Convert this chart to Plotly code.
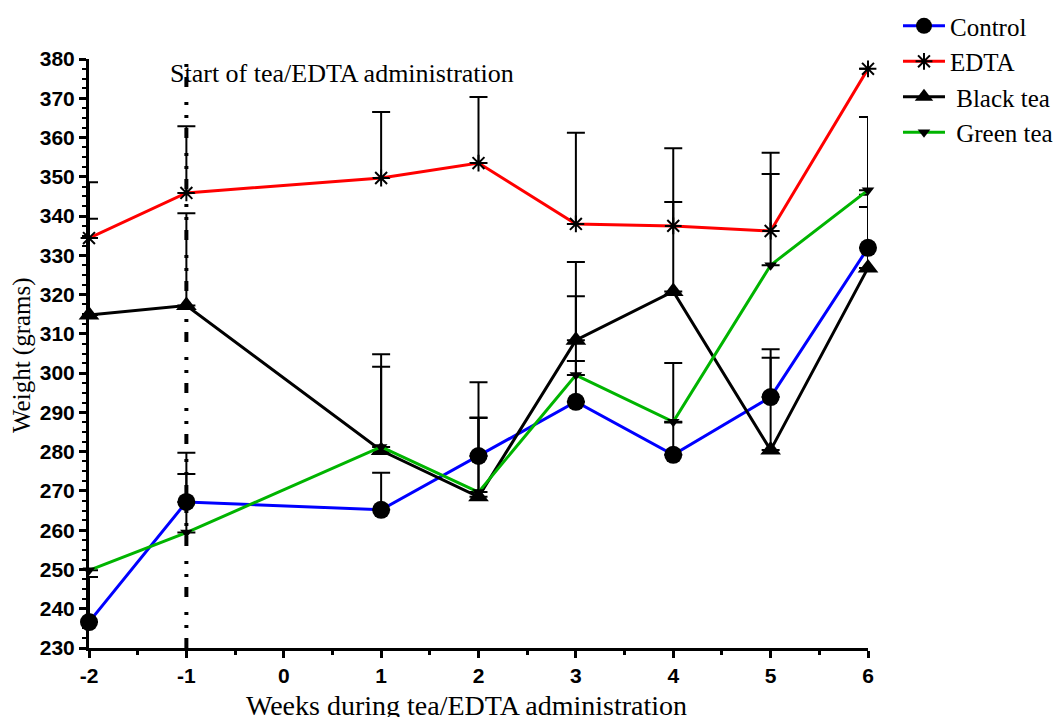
import plotly.graph_objects as go

weeks = [-2, -1, 1, 2, 3, 4, 5, 6]

control = [236.6, 267.2, 265.2, 278.9, 292.7, 279.2, 293.9, 331.9]
control_err = [11.5, 7.1, 9.4, 9.7, 10.4, 8.2, 10.0, 10.4]

edta = [334.4, 345.9, 349.7, 353.5, 338.0, 337.5, 336.2, 377.5]
edta_err = [14.2, 17.0, 16.8, 16.8, 23.2, 19.8, 19.9, 0.0]

black_tea = [314.8, 317.2, 280.3, 268.5, 308.4, 320.8, 280.4, 326.8]
black_tea_err = [24.5, 23.5, 24.5, 29.2, 19.9, 22.8, 25.7, 18.6]

green_tea = [249.8, 259.4, 281.2, 269.7, 299.5, 287.6, 327.5, 346.6]
green_tea_err = [0.0, 20.3, 20.4, 19.0, 20.1, 15.0, 23.2, 18.6]

x_ticks = [-2, -1, 0, 1, 2, 3, 4, 5, 6]
x_ticktext = ["-2", "-1", "0", "1", "2", "3", "4", "5", "6"]
y_ticks = list(range(230, 381, 10))

series = [
    ("Control", control, control_err, "#0000FF", "circle", 18),
    ("EDTA", edta, edta_err, "#FF0000", "asterisk-open", 14),
    ("\u00a0Black tea", black_tea, black_tea_err, "#000000", "triangle-up", 18),
    ("\u00a0Green tea", green_tea, green_tea_err, "#00B400", "triangle-down", 11),
]

fig = go.Figure()
for i, (name, vals, err, col, sym, size) in enumerate(series):
    fig.add_trace(go.Scatter(
        x=weeks, y=vals, name=name, mode="lines+markers",
        line=dict(color=col, width=3),
        marker=dict(symbol=sym, size=size, color="black",
                    line=dict(color="black", width=2 if "asterisk" in sym else 0)),
        error_y=dict(type="data", symmetric=False, array=err,
                     arrayminus=[0] * len(err), color="black",
                     thickness=2, width=9),
        cliponaxis=False,
        legendgroup=f"g{i}",
    ))

fig.add_shape(type="line", x0=-1, x1=-1, y0=230, y1=380, xref="x", yref="y",
              line=dict(color="black", width=4, dash="10px,10px,3px,10px,3px,15px"),
              layer="below")

serif = "Liberation Serif, Times New Roman, serif"
fig.add_annotation(x=0.6, y=376.2, xref="x", yref="y", text="Start of tea/EDTA administration",
                   showarrow=False, font=dict(family=serif, size=26, color="black"),
                   xanchor="center", yanchor="middle")
fig.add_annotation(x=0.484, y=-0.097, xref="paper", yref="paper",
                   text="Weeks during tea/EDTA administration", showarrow=False,
                   font=dict(family=serif, size=28, color="black"),
                   xanchor="center", yanchor="middle")
fig.add_annotation(x=-0.086, y=0.4975, xref="paper", yref="paper",
                   text="Weight (grams)", showarrow=False, textangle=-90,
                   font=dict(family=serif, size=25, color="black"),
                   xanchor="center", yanchor="middle")

tickfont = dict(family="Liberation Sans, Arial, sans-serif", size=21, color="black", weight="bold")
fig.update_xaxes(range=[-2, 6], tickmode="array", tickvals=x_ticks, ticktext=x_ticktext,
                 showline=True, linecolor="black", linewidth=3, ticks="outside",
                 ticklen=7, tickwidth=2.5, tickcolor="black", showgrid=False, zeroline=False,
                 tickfont=tickfont, automargin=False,
                 minor=dict(dtick=0.5, ticks="outside", ticklen=4, tickwidth=2.5, tickcolor="black"))
fig.update_yaxes(range=[230, 380], tickmode="array", tickvals=y_ticks,
                 showline=True, linecolor="black", linewidth=3, ticks="outside",
                 ticklen=7, tickwidth=2.5, tickcolor="black", showgrid=False, zeroline=False,
                 tickfont=tickfont, automargin=False,
                 minor=dict(dtick=2.5, tick0=230, ticks="outside", ticklen=4, tickwidth=2, tickcolor="black"))

fig.update_layout(
    width=1063, height=717,
    margin=dict(l=89, r=195, t=59, b=69, autoexpand=False),
    plot_bgcolor="white", paper_bgcolor="white",
    showlegend=True,
    legend=dict(x=1.0385, y=1.095, xanchor="left", yanchor="top",
                font=dict(family=serif, size=25, color="black"),
                tracegroupgap=0, itemwidth=42, bgcolor="rgba(0,0,0,0)"),
)

fig.write_html("out.html")
